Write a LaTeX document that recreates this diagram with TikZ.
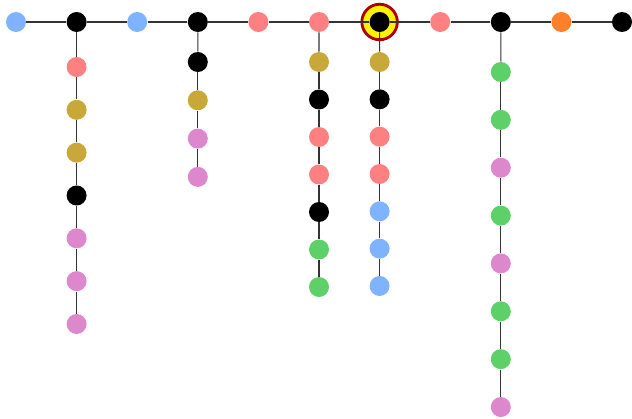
\documentclass[tikz,border=0pt]{standalone}
\usepackage{tikz}
\usetikzlibrary{backgrounds}
\definecolor{nblue}{RGB}{127,178,255}
\definecolor{nsalmon}{RGB}{255,128,128}
\definecolor{nolive}{RGB}{200,168,56}
\definecolor{npink}{RGB}{221,136,204}
\definecolor{ngreen}{RGB}{94,208,104}
\definecolor{norange}{RGB}{255,128,40}
\definecolor{nring}{RGB}{170,0,0}
\begin{document}
\begin{tikzpicture}[
    x=0.02cm, y=-0.02cm,
    dot/.style={circle, inner sep=0pt, minimum size=0.4cm, fill=#1},
    ring/.style={circle, inner sep=0pt, minimum size=0.71cm, fill=yellow, draw=nring, line width=1.6pt},
    link/.style={draw=black!80, line width=0.6pt}
]
\useasboundingbox (0,0) rectangle (632,419);
% top row
\foreach \c [count=\i from 0] in {nblue,black,nblue,black,nsalmon,nsalmon,black,nsalmon,black,norange,black}
  \node[dot=\c] (t\i) at ({16+60.6*\i},22) {};
% hanging columns
\foreach \c [count=\i] in {nsalmon,nolive,nolive,black,npink,npink,npink}
  \node[dot=\c] (a\i) at (76.6,{67+42.83*(\i-1)}) {};
\foreach \c [count=\i] in {black,nolive,npink,npink}
  \node[dot=\c] (b\i) at (197.8,{62+38.3*(\i-1)}) {};
\foreach \c [count=\i] in {nolive,black,nsalmon,nsalmon,black,ngreen,ngreen}
  \node[dot=\c] (c\i) at (319,{62+37.5*(\i-1)}) {};
\foreach \c [count=\i] in {nolive,black,nsalmon,nsalmon,nblue,nblue,nblue}
  \node[dot=\c] (d\i) at (379.6,{62+37.33*(\i-1)}) {};
\foreach \c [count=\i] in {ngreen,ngreen,npink,ngreen,npink,ngreen,ngreen,npink}
  \node[dot=\c] (e\i) at (500.8,{72+47.86*(\i-1)}) {};
\begin{pgfonlayer}{background}
  % highlighted node
  \node[ring] (hl) at (t6) {};
  \foreach \i [count=\j from 1] in {0,...,9}
    \draw[link] (t\i) -- (t\j);
  \draw[link] (t1) -- (a1);
  \draw[link] (t3) -- (b1);
  \draw[link] (t5) -- (c1);
  \draw[link] (t6) -- (d1);
  \draw[link] (t8) -- (e1);
  \foreach \i [count=\j from 2] in {1,...,6} {
    \draw[link] (a\i) -- (a\j);
    \draw[link] (c\i) -- (c\j);
    \draw[link] (d\i) -- (d\j);
  }
  \foreach \i [count=\j from 2] in {1,...,3}
    \draw[link] (b\i) -- (b\j);
  \foreach \i [count=\j from 2] in {1,...,7}
    \draw[link] (e\i) -- (e\j);
\end{pgfonlayer}
\end{tikzpicture}
\end{document}
